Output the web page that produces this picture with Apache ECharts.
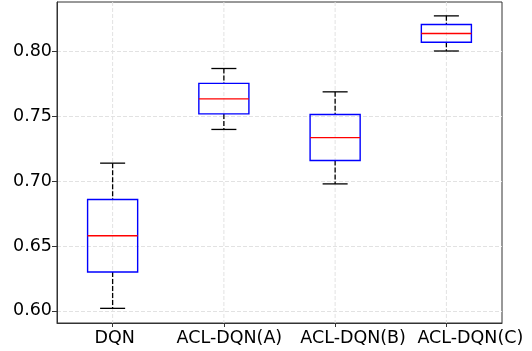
<!DOCTYPE html>
<html><head><meta charset="utf-8">
<script src="https://cdn.jsdelivr.net/npm/echarts@6/dist/echarts.min.js"></script>
<style>html,body{margin:0;padding:0;background:#fff}#c{width:532px;height:351px}</style>
</head><body><div id="c"></div>
<script>
const categories = ['DQN', 'ACL-DQN(A)', 'ACL-DQN(B)', 'ACL-DQN(C)'];
const whiskerLow = [0.602, 0.740, 0.698, 0.8005];
const q1 = [0.630, 0.752, 0.716, 0.8073];
const median = [0.658, 0.7636, 0.7337, 0.814];
const q3 = [0.686, 0.7755, 0.7515, 0.8209];
const whiskerHigh = [0.714, 0.787, 0.769, 0.8276];
const yTicks = [0.60, 0.65, 0.70, 0.75, 0.80];
const yMin = 0.5907, yMax = 0.8383;

const data = categories.map((c, i) => [i, whiskerLow[i], q1[i], median[i], q3[i], whiskerHigh[i]]);
const FONT = 'DejaVu Sans';
// layout: horizontal label shift (px) seen in the reference
const labelShiftPx = [2, 5.5, 18, 24];
const rich = {};
labelShiftPx.forEach((s, i) => {
  rich['s' + i] = {color: '#000', fontFamily: FONT, fontSize: 17.5, padding: [0, 0, 0, s * 2]};
});

const chart = echarts.init(document.getElementById('c'), null, {renderer: 'canvas'});
chart.setOption({
  animation: false,
  backgroundColor: '#fff',
  grid: {left: 57, right: 30, top: 2, bottom: 28, show: true, borderColor: '#333', borderWidth: 1, backgroundColor: 'transparent'},
  xAxis: {
    type: 'category', data: categories, boundaryGap: true,
    axisLine: {show: true, lineStyle: {color: '#333', width: 1}},
    axisTick: {show: true, alignWithLabel: true, interval: 0, length: 4, lineStyle: {color: '#333'}},
    axisLabel: {color: '#000', fontFamily: FONT, fontSize: 17.5, margin: 6, interval: 0, hideOverlap: false,
      formatter: (v, i) => '{s' + i + '|' + v + '}', rich: rich},
    splitLine: {show: false}
  },
  yAxis: {
    type: 'value', min: yMin, max: yMax, splitNumber: 5,
    axisLine: {show: true, lineStyle: {color: '#333', width: 1}},
    axisTick: {show: true, length: 5, customValues: yTicks, lineStyle: {color: '#333'}},
    axisLabel: {color: '#000', fontFamily: FONT, fontSize: 17.5, margin: 5, customValues: yTicks,
      formatter: v => v.toFixed(2)},
    splitLine: {show: true, lineStyle: {color: '#e2e2e2', type: [4, 2], width: 1}}
  },
  series: [{
    type: 'custom',
    data: data,
    encode: {x: 0, y: [1, 2, 3, 4, 5]},
    renderItem: function (params, api) {
      const x = api.value(0);
      const pLow = api.coord([x, api.value(1)]);
      const pQ1 = api.coord([x, api.value(2)]);
      const pMed = api.coord([x, api.value(3)]);
      const pQ3 = api.coord([x, api.value(4)]);
      const pHigh = api.coord([x, api.value(5)]);
      const bw = api.size([1, 0])[0] * 0.45;
      const cw = bw / 2;
      const cx = pMed[0];
      const cs = params.coordSys;
      return {
        type: 'group',
        children: [
          {type: 'line', shape: {x1: cx, y1: cs.y, x2: cx, y2: cs.y + cs.height},
            style: {stroke: '#e2e2e2', lineWidth: 1, lineDash: [4, 2]}},
          {type: 'line', shape: {x1: cx, y1: pHigh[1], x2: cx, y2: pQ3[1]},
            style: {stroke: '#000', lineWidth: 1.3, lineDash: [5, 2]}},
          {type: 'line', shape: {x1: cx, y1: pQ1[1], x2: cx, y2: pLow[1]},
            style: {stroke: '#000', lineWidth: 1.3, lineDash: [5, 2]}},
          {type: 'line', shape: {x1: cx - cw / 2, y1: pHigh[1], x2: cx + cw / 2, y2: pHigh[1]},
            style: {stroke: '#000', lineWidth: 1.3}},
          {type: 'line', shape: {x1: cx - cw / 2, y1: pLow[1], x2: cx + cw / 2, y2: pLow[1]},
            style: {stroke: '#000', lineWidth: 1.3}},
          {type: 'rect', shape: {x: cx - bw / 2, y: pQ3[1], width: bw, height: pQ1[1] - pQ3[1]},
            style: {fill: 'none', stroke: '#0000ff', lineWidth: 1.4}},
          {type: 'line', shape: {x1: cx - bw / 2, y1: pMed[1], x2: cx + bw / 2, y2: pMed[1]},
            style: {stroke: '#ff0000', lineWidth: 1.4}}
        ]
      };
    }
  }]
});
</script></body></html>
